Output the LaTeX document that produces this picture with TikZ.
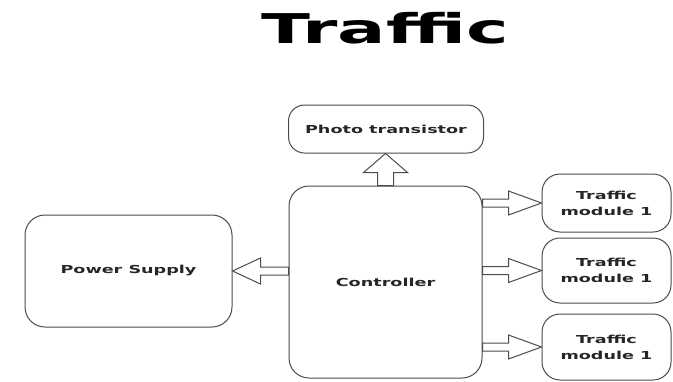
\documentclass[tikz,border=0pt]{standalone}
\usepackage{fontspec}
\newfontfamily\diagfont{DejaVu Sans}[FakeStretch=1.6]
\newfontfamily\titlefont{DejaVu Sans}[FakeStretch=1.75]
\usetikzlibrary{calc}
\usetikzlibrary{positioning}

\tikzset{
  block/.style={draw=black!70, line width=1pt, fill=white, inner sep=0pt,
    align=center, text=black!85,
    font=\diagfont\bfseries\fontsize{11}{16}\selectfont},
  barrow/.style n args={3}{draw=black!70, line width=1pt, fill=white,
    to path={
      -- ($(\tikztostart)!#3!90:(\tikztotarget)$)
      -- ($($(\tikztotarget)!#1!(\tikztostart)$)!#3!90:(\tikztotarget)$)
      -- ($($(\tikztotarget)!#1!(\tikztostart)$)!#2!90:(\tikztotarget)$)
      -- (\tikztotarget)
      -- ($($(\tikztotarget)!#1!(\tikztostart)$)!#2!-90:(\tikztotarget)$)
      -- ($($(\tikztotarget)!#1!(\tikztostart)$)!#3!-90:(\tikztotarget)$)
      -- ($(\tikztostart)!#3!-90:(\tikztotarget)$)
      -- cycle}}
}

\begin{document}
\begin{tikzpicture}[x=1pt, y=-1pt]
    \useasboundingbox[fill=white] (0,0) rectangle (673,381);

    % title
    \node[anchor=base, inner sep=0pt, font=\titlefont\bfseries\fontsize{41}{41}\selectfont]
        (title) at (385,43) {Traffic};

    % blocks
    \node[block, rounded corners=16pt, minimum width=195pt, minimum height=48pt]
        (photo) at (386,129) {Photo transistor};
    \node[block, rounded corners=20pt, minimum width=193pt, minimum height=192pt]
        (ctrl) at (385.5,282) {Controller};
    \node[block, rounded corners=20pt, minimum width=207pt, minimum height=112pt]
        (ps) at (128.5,271) {Power Supply};
    \node[block, rounded corners=18pt, minimum width=129pt, minimum height=58pt]
        (m1) at (606.5,203) {Traffic\\module 1};
    \node[block, rounded corners=18pt, minimum width=129pt, minimum height=65pt]
        (m2) at (606.5,270.5) {Traffic\\module 1};
    \node[block, rounded corners=18pt, minimum width=129pt, minimum height=66pt]
        (m3) at (606.5,347) {Traffic\\module 1};

    % block arrows
    \draw[barrow={19pt}{22pt}{8pt}] (ctrl.north) to (ctrl.north |- photo.south);
    \draw[barrow={28pt}{13pt}{4pt}] (ctrl.west |- ps.east) to (ps.east);
    \draw[barrow={33pt}{12pt}{4pt}] (ctrl.east |- m1.west) to (m1.west);
    \draw[barrow={33pt}{12pt}{4pt}] (ctrl.east |- m2.west) to (m2.west);
    \draw[barrow={33pt}{12pt}{4pt}] (ctrl.east |- m3.west) to (m3.west);
\end{tikzpicture}
\end{document}
